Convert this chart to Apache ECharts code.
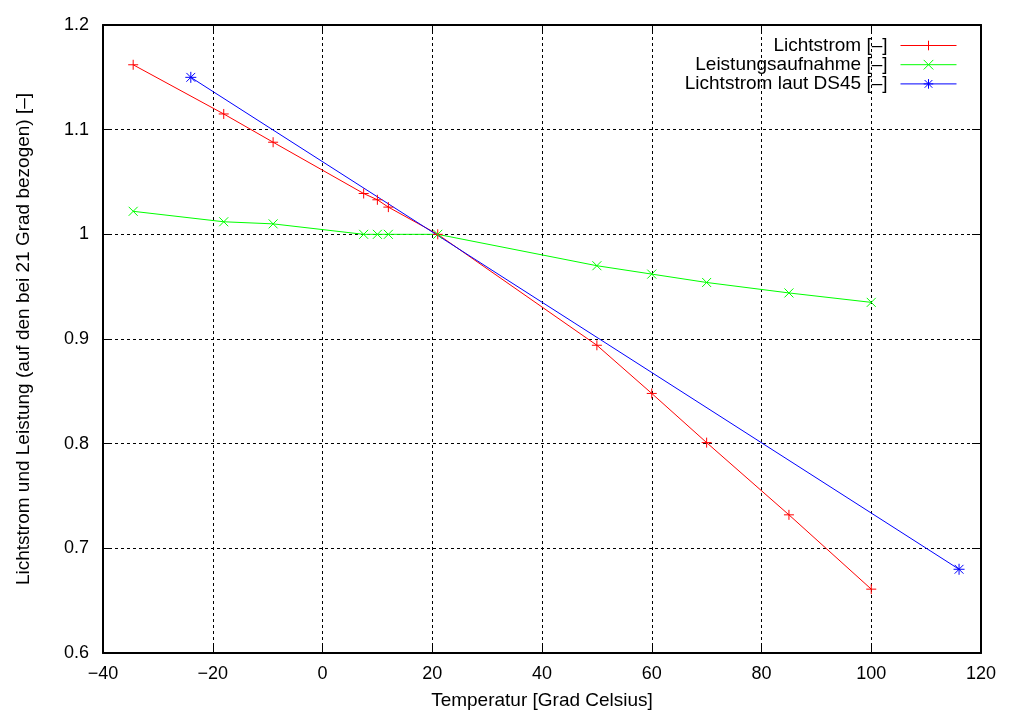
<!DOCTYPE html>
<html><head><meta charset="utf-8">
<script src="https://cdn.jsdelivr.net/npm/echarts@6/dist/echarts.min.js"></script>
<style>html,body{margin:0;padding:0;background:#fff}#c{width:1018px;height:713px}</style>
</head><body><div id="c"></div>
<script>
const tempX = [-34.5, -18, -9, 7.5, 10, 12, 21, 50, 60, 70, 85, 100];
const lichtstrom = [1.162, 1.115, 1.088, 1.039, 1.033, 1.026, 1.0, 0.894, 0.848, 0.801, 0.732, 0.661];
const leistung = [1.022, 1.012, 1.010, 1.0, 1.0, 1.0, 1.0, 0.970, 0.962, 0.954, 0.944, 0.935];
const ds45X = [-24, 116];
const ds45 = [1.15, 0.68];
const seriesNames = ['Lichtstrom [–]', 'Leistungsaufnahme [–]', 'Lichtstrom laut DS45 [–]'];
const seriesColors = ['#ff0000', '#00ff00', '#0000ff'];
const xTitle = 'Temperatur [Grad Celsius]';
const yTitle = 'Lichtstrom und Leistung (auf den bei 21 Grad bezogen) [–]';

const FONT = 'Liberation Sans';
const plus = 'path://M0,5L10,5M5,0L5,10';
const cross = 'path://M0,0L10,10M10,0L0,10';
const star = 'path://M0,5L10,5M5,0L5,10M1,1L9,9M9,1L1,9';

function pairs(xs, ys){ return xs.map((x,i)=>[x, ys[i]]); }
function mk(name, data, color, sym, size){
  return {name, type:'line', data, symbol: sym, symbolSize: size, showSymbol:true,
    animation:false, lineStyle:{color, width:1}, itemStyle:{color:'none', borderColor:color, borderWidth:1},
    xAxisIndex:0, yAxisIndex:0, z: 3};
}
const fmtX = v => String(v).replace('-', '\u2212');
const axisLine = {show:true, onZero:false, lineStyle:{color:'#000', width:2}};
const tick = {show:true, inside:true, length:9, lineStyle:{color:'#000', width:1}};
const split = {show:true, lineStyle:{color:'#000', width:1, type:[3,3]}};

const legends = seriesNames.map((n,i)=>({
  data:[n], right:61, top: 36 + i*19.2, padding:0, align:'right', orient:'vertical',
  itemWidth:56, itemHeight:12, selectedMode:false,
  lineStyle:{width:1, color:seriesColors[i]},
  itemStyle:{color:'none', borderColor:seriesColors[i], borderWidth:1},
  textStyle:{fontFamily:FONT, fontSize:19, color:'#000', padding:[0,8,0,0]}
}));

const chart = echarts.init(document.getElementById('c'), null, {renderer:'canvas'});
chart.setOption({
  animation:false,
  backgroundColor:'#fff',
  grid:{left:103, right:37, top:25, bottom:60, containLabel:false, outerBoundsMode:'none'},
  legend: legends,
  xAxis:[
    {type:'value', min:-40, max:120, interval:20, position:'bottom',
     name:xTitle, nameLocation:'middle', nameGap:38,
     nameTextStyle:{fontFamily:FONT, fontSize:19, color:'#000'},
     axisLine, axisTick:tick, splitLine:split,
     axisLabel:{fontFamily:FONT, fontSize:18, color:'#000', margin:12, formatter:fmtX}},
    {type:'value', min:-40, max:120, interval:20, position:'top',
     axisLine, axisTick:tick, splitLine:{show:false}, axisLabel:{show:false}}
  ],
  yAxis:[
    {type:'value', min:0.6, max:1.2, interval:0.1, position:'left',
     name:yTitle, nameLocation:'middle', nameGap:70, nameRotate:90,
     nameTextStyle:{fontFamily:FONT, fontSize:19, color:'#000'},
     axisLine, axisTick:tick, splitLine:split,
     axisLabel:{fontFamily:FONT, fontSize:18, color:'#000', margin:14,
       formatter: v => String(Math.round(v*10)/10)}},
    {type:'value', min:0.6, max:1.2, interval:0.1, position:'right',
     axisLine, axisTick:tick, splitLine:{show:false}, axisLabel:{show:false}}
  ],
  series:[
    mk(seriesNames[0], pairs(tempX, lichtstrom), seriesColors[0], plus, 10),
    mk(seriesNames[1], pairs(tempX, leistung), seriesColors[1], cross, 9),
    mk(seriesNames[2], pairs(ds45X, ds45), seriesColors[2], star, 11)
  ]
});
</script></body></html>
